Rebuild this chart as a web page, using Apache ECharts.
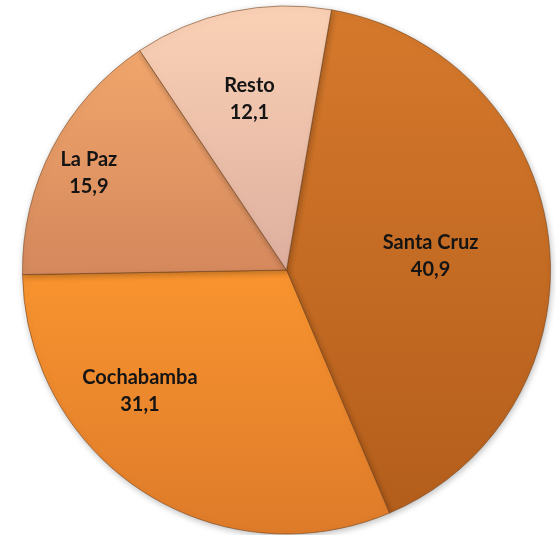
<!DOCTYPE html>
<html>
<head>
<meta charset="utf-8">
<script src="https://cdn.jsdelivr.net/npm/echarts@6/dist/echarts.min.js"></script>
<style>
html,body{margin:0;padding:0;background:#fff;}
#chart{width:556px;height:535px;}
</style>
</head>
<body>
<div id="chart"></div>
<script>
const categories = ['Santa Cruz', 'Cochabamba', 'La Paz', 'Resto'];
const values = [40.9, 31.1, 15.9, 12.1];

// styling (not data)
const sliceColors = [
  ['#D5792C', '#B45E1C'],
  ['#F9942F', '#DE7B2A'],
  ['#F1A66C', '#D4885C'],
  ['#FBD2B6', '#DDAE9E']
];
const labelOffsets = [[10, 2], [-73, 8], [-78, -34], [-9, -39]];

const chart = echarts.init(document.getElementById('chart'), null, {renderer: 'canvas'});
const data = categories.map((name, i) => ({
  name: name,
  value: values[i],
  itemStyle: {
    color: new echarts.graphic.LinearGradient(0, 0, 0, 1, [
      {offset: 0, color: sliceColors[i][0]},
      {offset: 1, color: sliceColors[i][1]}
    ])
  },
  label: {offset: labelOffsets[i]}
}));

chart.setOption({
  animation: false,
  backgroundColor: '#ffffff',
  series: [{
    type: 'pie',
    center: [286.5, 270],
    radius: [0, 264],
    startAngle: 80.2,
    clockwise: true,
    avoidLabelOverlap: false,
    data: data,
    itemStyle: {
      borderColor: 'rgba(110,60,20,0.55)',
      borderWidth: 1,
      shadowBlur: 6,
      shadowColor: 'rgba(0,0,0,0.25)',
      shadowOffsetX: 1,
      shadowOffsetY: 2
    },
    label: {
      show: true,
      position: 'inside',
      formatter: p => p.name + '\n' + String(p.value).replace('.', ','),
      fontFamily: 'Lato',
      fontWeight: 'bold',
      fontSize: 20,
      lineHeight: 27,
      color: '#141414',
      align: 'center'
    },
    labelLine: {show: false},
    emphasis: {disabled: true}
  }]
});
</script>
</body>
</html>
